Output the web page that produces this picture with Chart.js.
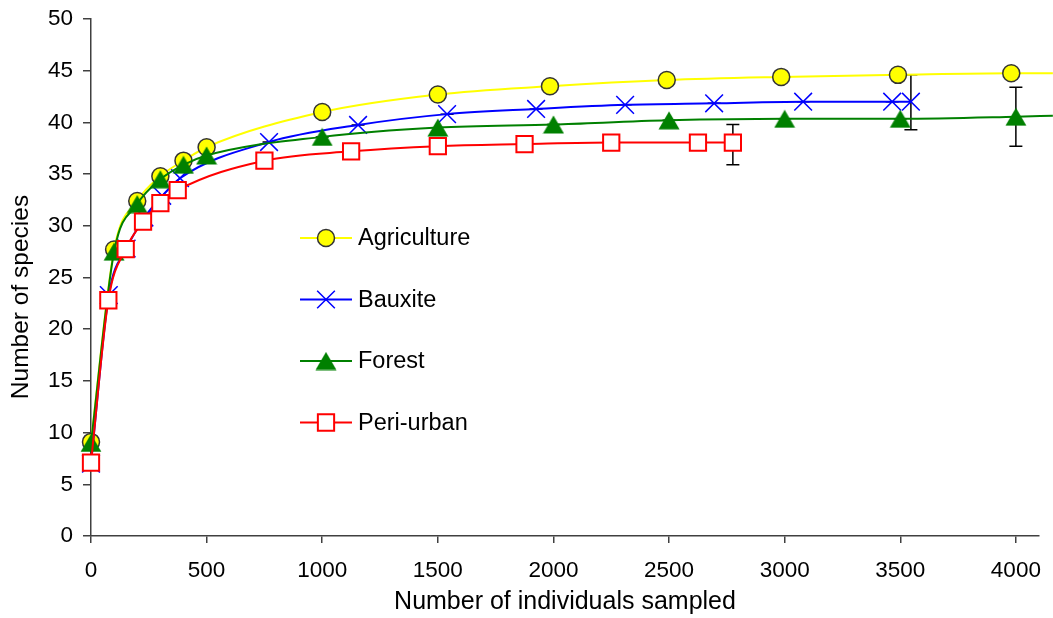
<!DOCTYPE html>
<html>
<head>
<meta charset="utf-8">
<script src="https://cdn.jsdelivr.net/npm/chart.js@4/dist/chart.umd.min.js"></script>
<style>
  body { margin: 0; background: #fff; }
  #chart { display: block; }
</style>
</head>
<body>
<canvas id="chart" width="1053" height="618"></canvas>
<script>
// rarefaction curves
var agriX = [0, 100, 200, 300, 400, 500, 1000, 1500, 1985, 2490, 2985, 3490, 3980, 4160];
var agriY = [9.1, 27.7, 32.4, 34.8, 36.3, 37.6, 41.0, 42.7, 43.5, 44.1, 44.4, 44.6, 44.75, 44.75];
var agriMarks = 13;

var bauxX = [0, 77, 154, 231, 308, 385, 770, 1155, 1540, 1925, 2310, 2695, 3080, 3465, 3546];
var bauxY = [7.0, 23.3, 27.8, 30.8, 32.9, 34.6, 38.1, 39.75, 40.8, 41.3, 41.7, 41.85, 42.0, 42.0, 42.0];
var bauxMarks = 15;

var forestX = [0, 100, 200, 300, 400, 500, 1000, 1500, 2000, 2500, 3000, 3500, 4000, 4160];
var forestY = [9.0, 27.5, 32.1, 34.5, 35.9, 36.8, 38.6, 39.5, 39.8, 40.2, 40.35, 40.35, 40.55, 40.65];
var forestMarks = 13;

var periX = [0, 75, 150, 225, 300, 375, 750, 1125, 1500, 1875, 2250, 2625, 2776];
var periY = [7.1, 22.8, 27.75, 30.4, 32.2, 33.45, 36.3, 37.2, 37.7, 37.9, 38.05, 38.05, 38.05];
var periMarks = 13;

// error bars (x, low, high)
var errX    = [2776, 3546, 4000, 77, 770, 1155, 1540, 1925, 2310, 2695, 3080, 3465, 1000, 2000, 2500, 3000, 3500];
var errLow  = [35.9, 39.3, 37.7, 23.3, 38.1, 39.75, 40.8, 41.3, 41.7, 41.85, 42.0, 42.0, 38.6, 39.8, 40.2, 40.35, 40.35];
var errHigh = [39.8, 44.6, 43.4, 23.3, 38.1, 39.75, 40.8, 41.3, 41.7, 41.85, 42.0, 42.0, 38.6, 39.8, 40.2, 40.35, 40.35];

var xTickVals = [0, 500, 1000, 1500, 2000, 2500, 3000, 3500, 4000];
var yTickVals = [0, 5, 10, 15, 20, 25, 30, 35, 40, 45, 50];
var xMax = 4100;

var FONT = '"Liberation Sans", Arial, sans-serif';

function pts(xs, ys) {
  return xs.map(function(v, i) { return {x: v, y: ys[i]}; });
}

// triangle marker centred on its box, like the original
var tri = document.createElement('canvas');
tri.width = 22; tri.height = 19;
var tctx = tri.getContext('2d');
tctx.fillStyle = '#008000';
tctx.beginPath();
tctx.moveTo(11, 0.5);
tctx.lineTo(21.5, 18.5);
tctx.lineTo(0.5, 18.5);
tctx.closePath();
tctx.fill();

var series = [
  {label: 'Agriculture', data: pts(agriX, agriY), marks: agriMarks, color: '#ffff00',
   pointStyle: 'circle', radius: 8.5, bg: '#ffff00', border: '#333333', bw: 1.5, order: 4},
  {label: 'Bauxite', data: pts(bauxX, bauxY), marks: bauxMarks, color: '#0000ff',
   pointStyle: 'crossRot', radius: 12.5, bg: '#0000ff', border: '#0000ff', bw: 1.5, order: 3},
  {label: 'Forest', data: pts(forestX, forestY), marks: forestMarks, color: '#008000',
   pointStyle: tri, radius: 10, bg: '#008000', border: '#008000', bw: 1, order: 2},
  {label: 'Peri-urban', data: pts(periX, periY), marks: periMarks, color: '#ff0000',
   pointStyle: 'rect', radius: 11.5, bg: '#ffffff', border: '#ff0000', bw: 2, order: 1}
];

var datasets = series.map(function(s) {
  return {
    label: s.label,
    data: s.data,
    showLine: true,
    borderColor: s.color,
    borderWidth: 2,
    cubicInterpolationMode: 'monotone',
    clip: false,
    order: s.order,
    pointStyle: s.pointStyle,
    pointRadius: function(c) { return c.dataIndex < s.marks ? s.radius : 0; },
    pointHoverRadius: function(c) { return c.dataIndex < s.marks ? s.radius : 0; },
    pointBackgroundColor: s.bg,
    pointBorderColor: s.border,
    pointBorderWidth: s.bw
  };
});

var errorBars = {
  id: 'errorBars',
  beforeDatasetsDraw: function(chart) {
    var ctx = chart.ctx, x = chart.scales.x, y = chart.scales.y;
    ctx.save();
    ctx.strokeStyle = '#000';
    ctx.lineWidth = 1.5;
    for (var i = 0; i < errX.length; i++) {
      var px = x.getPixelForValue(errX[i]);
      var lo = y.getPixelForValue(errLow[i]);
      var hi = y.getPixelForValue(errHigh[i]);
      ctx.beginPath();
      ctx.moveTo(px, lo); ctx.lineTo(px, hi);
      ctx.moveTo(px - 6.5, lo); ctx.lineTo(px + 6.5, lo);
      ctx.moveTo(px - 6.5, hi); ctx.lineTo(px + 6.5, hi);
      ctx.stroke();
    }
    ctx.restore();
  }
};

// legend inside the plot + y axis title (sits a bit below the axis middle)
var extras = {
  id: 'extras',
  afterDraw: function(chart) {
    var ctx = chart.ctx;
    ctx.save();
    ctx.font = '23.5px ' + FONT;
    ctx.textBaseline = 'middle';
    series.forEach(function(s, i) {
      var ly = 238 + i * 61.5;
      ctx.strokeStyle = s.color;
      ctx.lineWidth = 2;
      ctx.beginPath();
      ctx.moveTo(300, ly); ctx.lineTo(352, ly);
      ctx.stroke();
      ctx.fillStyle = s.bg;
      ctx.strokeStyle = s.border;
      ctx.lineWidth = s.bw;
      Chart.helpers.drawPoint(ctx, {pointStyle: s.pointStyle, radius: s.radius, rotation: 0, borderWidth: s.bw}, 326, ly);
      ctx.fillStyle = '#000';
      ctx.fillText(s.label, 358, ly + 1);
    });

    ctx.font = '24.5px ' + FONT;
    ctx.textAlign = 'center';
    ctx.translate(21, 297);
    ctx.rotate(-Math.PI / 2);
    ctx.fillText('Number of species', 0, 0);
    ctx.restore();
  }
};

Chart.defaults.font.family = FONT;
Chart.defaults.font.size = 22.5;
Chart.defaults.color = '#000';

new Chart(document.getElementById('chart'), {
  type: 'scatter',
  data: {datasets: datasets},
  options: {
    responsive: false,
    devicePixelRatio: 1,
    animation: false,
    layout: {padding: {top: 19, right: 12, left: 0, bottom: 0}},
    plugins: {legend: {display: false}, tooltip: {enabled: false}},
    scales: {
      x: {
        type: 'linear',
        min: 0,
        max: xMax,
        afterBuildTicks: function(s) { s.ticks = xTickVals.map(function(v) { return {value: v}; }); },
        afterFit: function(s) { s.height = 82; s.paddingLeft = 0; s.paddingRight = 0; },
        border: {color: '#404040', width: 1.5},
        grid: {drawOnChartArea: false, tickLength: 7, color: '#404040', lineWidth: 1.5},
        ticks: {padding: 14, callback: function(v) { return String(v); }},
        title: {display: true, text: 'Number of individuals sampled', font: {size: 25}, padding: {top: 0, bottom: 1}}
      },
      y: {
        type: 'linear',
        min: 0,
        max: 50,
        afterBuildTicks: function(s) { s.ticks = yTickVals.map(function(v) { return {value: v}; }); },
        afterFit: function(s) { s.width = 91; s.paddingTop = 0; s.paddingBottom = 0; },
        border: {color: '#404040', width: 1.5},
        grid: {drawOnChartArea: false, tickLength: 8, color: '#404040', lineWidth: 1.5},
        ticks: {padding: 10, callback: function(v) { return String(v); }}
      }
    }
  },
  plugins: [errorBars, extras]
});
</script>
</body>
</html>
